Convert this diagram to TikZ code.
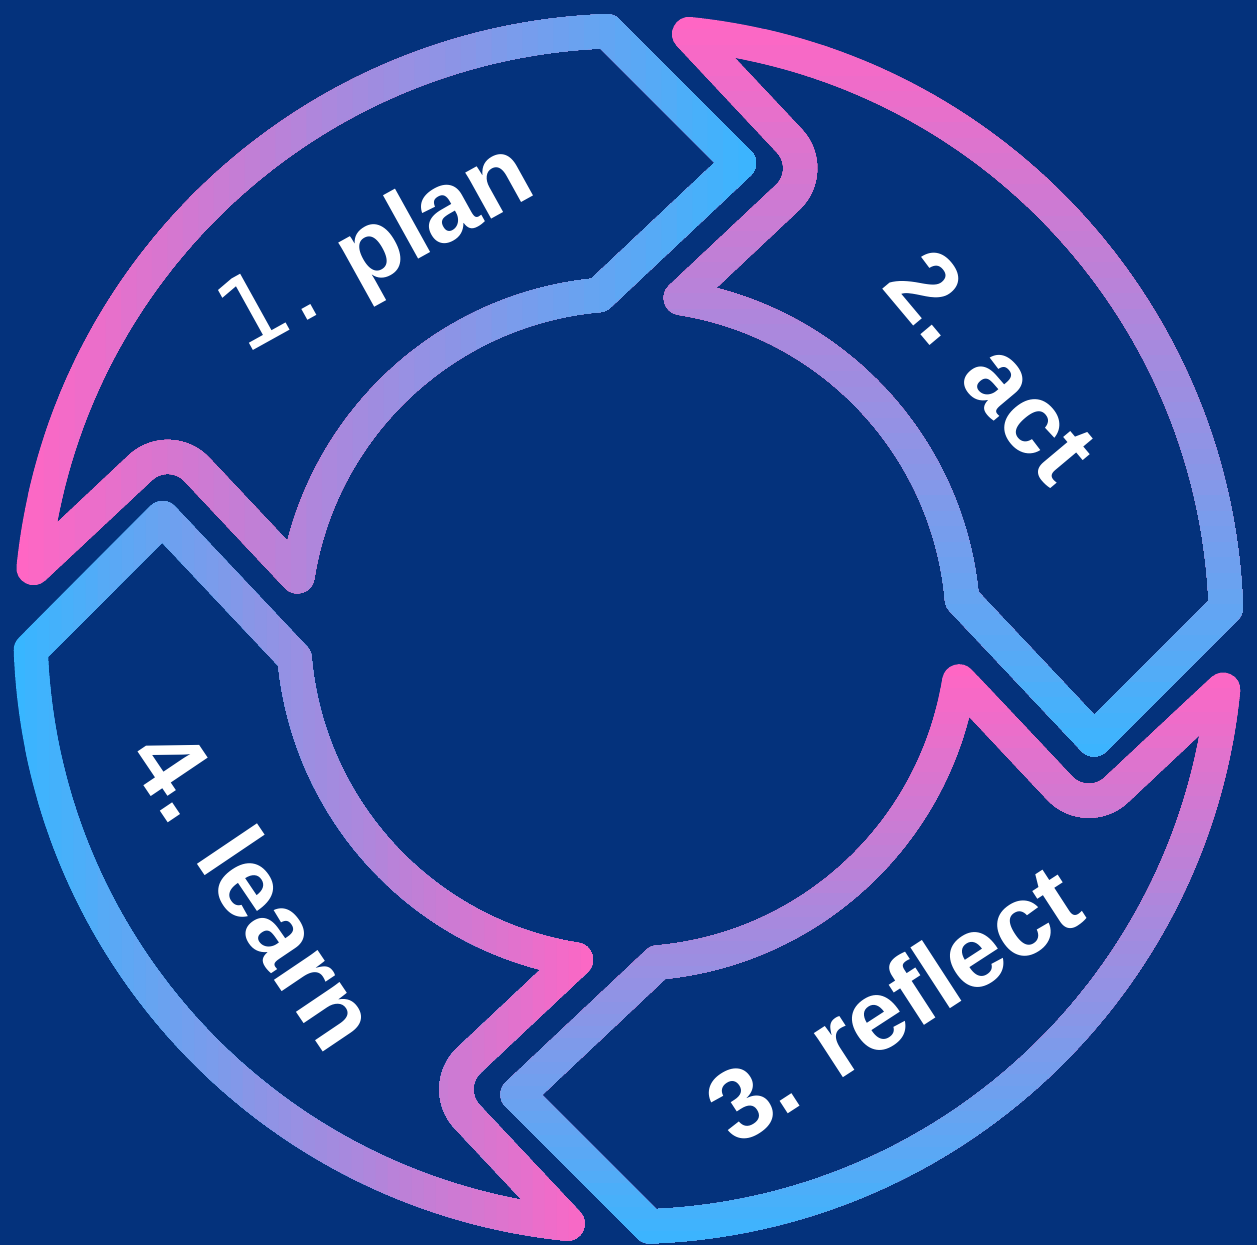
\documentclass[tikz,border=0pt]{standalone}
\usepackage{fontspec}
\setmainfont{Liberation Sans}
\newfontfamily\numfont{DejaVu Sans}

\definecolor{cyclepink}{RGB}{255,102,196}
\definecolor{cycleblue}{RGB}{56,182,255}
\definecolor{navybg}{RGB}{4,50,124}

\tikzset{every picture/.style={line width=0.75pt}}
\tikzset{
	ringline/.style={line width=25.5pt, line join=round, line cap=round},
	steplabel/.style={text=white, inner sep=0pt, font=\fontsize{75}{75}\selectfont\bfseries}
}

% one arrow of the ring around the origin: tail on the left, head at the top
\def\ringarrow{(184.03:598) arc[start angle=184.03, end angle=266.17, radius=598] -- (96,-469) -- (263.14:335) arc[start angle=263.14, end angle=187.2, radius=335] -- (-436.2,-145.7) .. controls (-451.8,-161.3) and (-477.2,-161.3) .. (-492.8,-145.7) -- cycle}

\begin{document}
\begin{tikzpicture}[x=0.75pt,y=0.75pt,yscale=-1,xscale=1]
	\useasboundingbox (0,0) rectangle (1257,1245);
	\fill[navybg] (0,0) rectangle (1257,1245);

	% four arrows, each stroked in bands that step from pink to blue
	\foreach \rot/\dir/\from/\to/\cola/\colb in {1.8/h/13/754/cyclepink/cycleblue, 91.8/v/14/760/cyclepink/cycleblue, 181.8/v/664/1244/cyclepink/cycleblue, 271.8/h/13/593/cycleblue/cyclepink}{
		\draw[ringline, draw=\cola, shift={(628.3,628.8)}, rotate=\rot] \ringarrow;
		\foreach \i in {1,...,48}{
			\pgfmathsetmacro{\cutpos}{\from+(\to-\from)/48*\i}
			\pgfmathtruncatemacro{\mixpct}{round(100/48*\i)}
			\begin{scope}
				\if\dir h
					\clip (\cutpos,-20) rectangle (1300,1300);
				\else
					\clip (-20,\cutpos) rectangle (1300,1300);
				\fi
				\draw[ringline, draw=\colb!\mixpct!\cola, shift={(628.3,628.8)}, rotate=\rot] \ringarrow;
			\end{scope}
		}
	}

	\node[steplabel, rotate=29] (plan) at (378,252) {{\numfont\mdseries 1.} plan};
	\node[steplabel, rotate=-50] (act) at (992,366) {2. act};
	\node[steplabel, rotate=33] (reflect) at (893,1003) {3. reflect};
	\node[steplabel, rotate=-56] (learn) at (256,888) {4. learn};
\end{tikzpicture}
\end{document}
